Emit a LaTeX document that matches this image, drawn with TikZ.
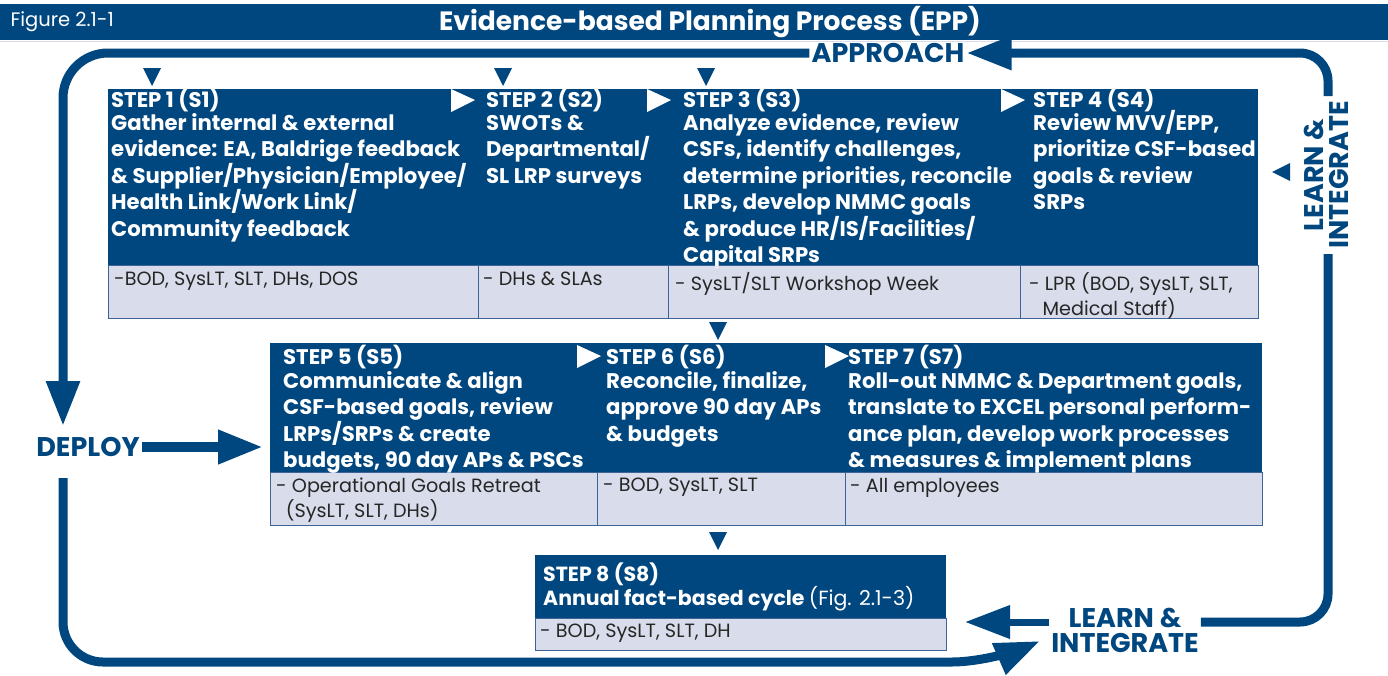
\documentclass[tikz,border=0pt]{standalone}
\usepackage{fontspec}
\setmainfont{Poppins}
\usetikzlibrary{arrows.meta}

\definecolor{eppblue}{RGB}{0,70,127}
\definecolor{epplight}{RGB}{217,221,235}
\definecolor{eppline}{RGB}{60,100,150}

\tikzset{
  steptxt/.style={anchor=north west, inner sep=0pt, align=left, text=white,
    font=\fontsize{21.2}{26.5}\selectfont\bfseries},
  roletxt/.style={anchor=north west, inner sep=0pt, align=left, text=black!85,
    font=\fontsize{19.2}{25}\selectfont},
  rolecell/.style={fill=epplight, draw=eppline, line width=1pt},
  looplbl/.style={text=eppblue, inner sep=2pt, align=center,
    font=\fontsize{27}{25}\selectfont\bfseries},
  loopline/.style={draw=eppblue, line width=9pt},
  bigtip/.style={-{Triangle[length=45pt,width=32pt]}},
}

\begin{document}
\begin{tikzpicture}[x=1pt, y=-1pt]
    \useasboundingbox (0,0) rectangle (1388,675);

    % title band
    \fill[eppblue] (0,4) rectangle (1388,40);
    \draw[epplight, line width=1.5pt] (0,41.5) -- (1388,41.5);
    \node[anchor=west, text=white, font=\fontsize{19.5}{22}\selectfont] (fig) at (7,22) {Figure 2.1-1};
    \node[text=white, font=\fontsize{26.5}{28}\selectfont\bfseries] (title) at (710,22) {Evidence-based Planning Process (EPP)};

    % row 1: steps 1-4
    \fill[eppblue] (108,89) rectangle (1258,265);
    \draw[rolecell] (108,265) rectangle (478,318);
    \draw[rolecell] (478,265) rectangle (668,318);
    \draw[rolecell] (668,265) rectangle (1020,318);
    \draw[rolecell] (1020,265) rectangle (1258,318);

    \node[steptxt] (s1) at (111,88) {STEP 1 (S1)\\[-4pt]Gather internal \& external\\evidence: EA, Baldrige feedback\\\& Supplier/Physician/Employee/\\Health Link/Work Link/\\Community feedback};
    \node[steptxt] (s2) at (486,88) {STEP 2 (S2)\\[-4pt]SWOTs \&\\Departmental/\\SL LRP surveys};
    \node[steptxt] (s3) at (683,88) {STEP 3 (S3)\\[-4pt]Analyze evidence, review\\CSFs, identify challenges,\\determine priorities, reconcile\\LRPs, develop NMMC goals\\\& produce HR/IS/Facilities/\\Capital SRPs};
    \node[steptxt] (s4) at (1033,88) {STEP 4 (S4)\\[-4pt]Review MVV/EPP,\\prioritize CSF-based\\goals \& review\\SRPs};
    % light row lies over the last text line
    \fill[epplight] (669,265.5) rectangle (1019,267);

    \node[roletxt] (r1) at (114,272) {-BOD, SysLT, SLT, DHs, DOS};
    \node[roletxt] (r2) at (483,272) {- DHs \& SLAs};
    \node[roletxt] (r3) at (675,272) {- SysLT/SLT Workshop Week};
    \node[roletxt] (r4) at (1029,272) {- LPR (BOD, SysLT, SLT,\\\hspace*{0.7em}Medical Staff)};

    % row 2: steps 5-7
    \fill[eppblue] (270,343) rectangle (1262,472);
    \draw[rolecell] (270,472) rectangle (597,525);
    \draw[rolecell] (597,472) rectangle (845,525);
    \draw[rolecell] (845,472) rectangle (1262,525);

    \node[steptxt] (s5) at (283,345) {STEP 5 (S5)\\[-3pt]Communicate \& align\\CSF-based goals, review\\LRPs/SRPs \& create\\budgets, 90 day APs \& PSCs};
    \node[steptxt] (s6) at (606,345) {STEP 6 (S6)\\[-3pt]Reconcile, finalize,\\approve 90 day APs\\\& budgets};
    \node[steptxt] (s7) at (848,345) {STEP 7 (S7)\\[-3pt]Roll-out NMMC \& Department goals,\\translate to EXCEL personal perform-\\ance plan, develop work processes\\\& measures \& implement plans};

    \node[roletxt] (r5) at (276,478) {- Operational Goals Retreat\\\hspace*{0.5em}(SysLT, SLT, DHs)};
    \node[roletxt] (r6) at (603,478) {- BOD, SysLT, SLT};
    \node[roletxt] (r7) at (850,478) {- All employees};

    % row 3: step 8
    \fill[eppblue] (535,555) rectangle (946,618);
    \draw[rolecell] (535,618) rectangle (946,650);
    \node[steptxt, font=\fontsize{20.5}{24}\selectfont\bfseries] (s8) at (543,563) {STEP 8 (S8)\\Annual fact-based cycle {\mdseries (Fig. 2.1-3)}};
    \node[roletxt] (r8) at (540,624) {- BOD, SysLT, SLT, DH};

    % small triangles
    \fill[eppblue] (143,68) -- (161,68) -- (152,86) -- cycle;
    \fill[eppblue] (494,68) -- (512,68) -- (503,86) -- cycle;
    \fill[eppblue] (697,68) -- (715,68) -- (706,86) -- cycle;
    \fill[eppblue] (709,322) -- (727,322) -- (718,340) -- cycle;
    \fill[eppblue] (709,532) -- (727,532) -- (718,550) -- cycle;
    \fill[white] (451,89) -- (475,100) -- (451,112) -- cycle;
    \fill[white] (647,89) -- (671,100) -- (647,112) -- cycle;
    \fill[white] (1001,89) -- (1025,100) -- (1001,112) -- cycle;
    \fill[white] (577,345) -- (601,356) -- (577,368) -- cycle;
    \fill[white] (825,345) -- (849,356) -- (825,368) -- cycle;
    \fill[eppblue] (1290,163) -- (1272,172) -- (1290,181) -- cycle;

    % cycle labels
    \node[looplbl] (approach) at (888,53) {APPROACH};
    \node[looplbl] (deploy) at (88,447) {DEPLOY};
    \node[looplbl, rotate=90] (learnR) at (1326,175) {LEARN \&\\INTEGRATE};
    \node[looplbl] (learnB) at (1125,630) {LEARN \&\\INTEGRATE};

    \coordinate (dtop) at (63,426);
    \coordinate (dbot) at (63,478);
    \coordinate (rtop) at (1328,96);
    \coordinate (rbot) at (1328,254);
    \coordinate (s8in) at (965,622);
    \coordinate (s5in) at (263,447);
    \coordinate (back) at (1040,641);

    % cycle arrows
    \draw[loopline, rounded corners=28pt, bigtip] (rtop) |- (approach.east);
    \draw[loopline, rounded corners=45pt, bigtip] (approach.west) -| (dtop);
    \draw[eppblue, line width=10pt, bigtip] (deploy.east) -- (s5in);
    \draw[loopline, rounded corners=40pt] (dbot) |- (992,662) [sharp corners] -- (back) [bigtip];
    \draw[loopline, rounded corners=28pt] (rbot) |- ([yshift=8pt]learnB.east);
    \draw[eppblue, line width=7pt, bigtip] ([yshift=8pt]learnB.west) -- (s8in);
\end{tikzpicture}
\end{document}
